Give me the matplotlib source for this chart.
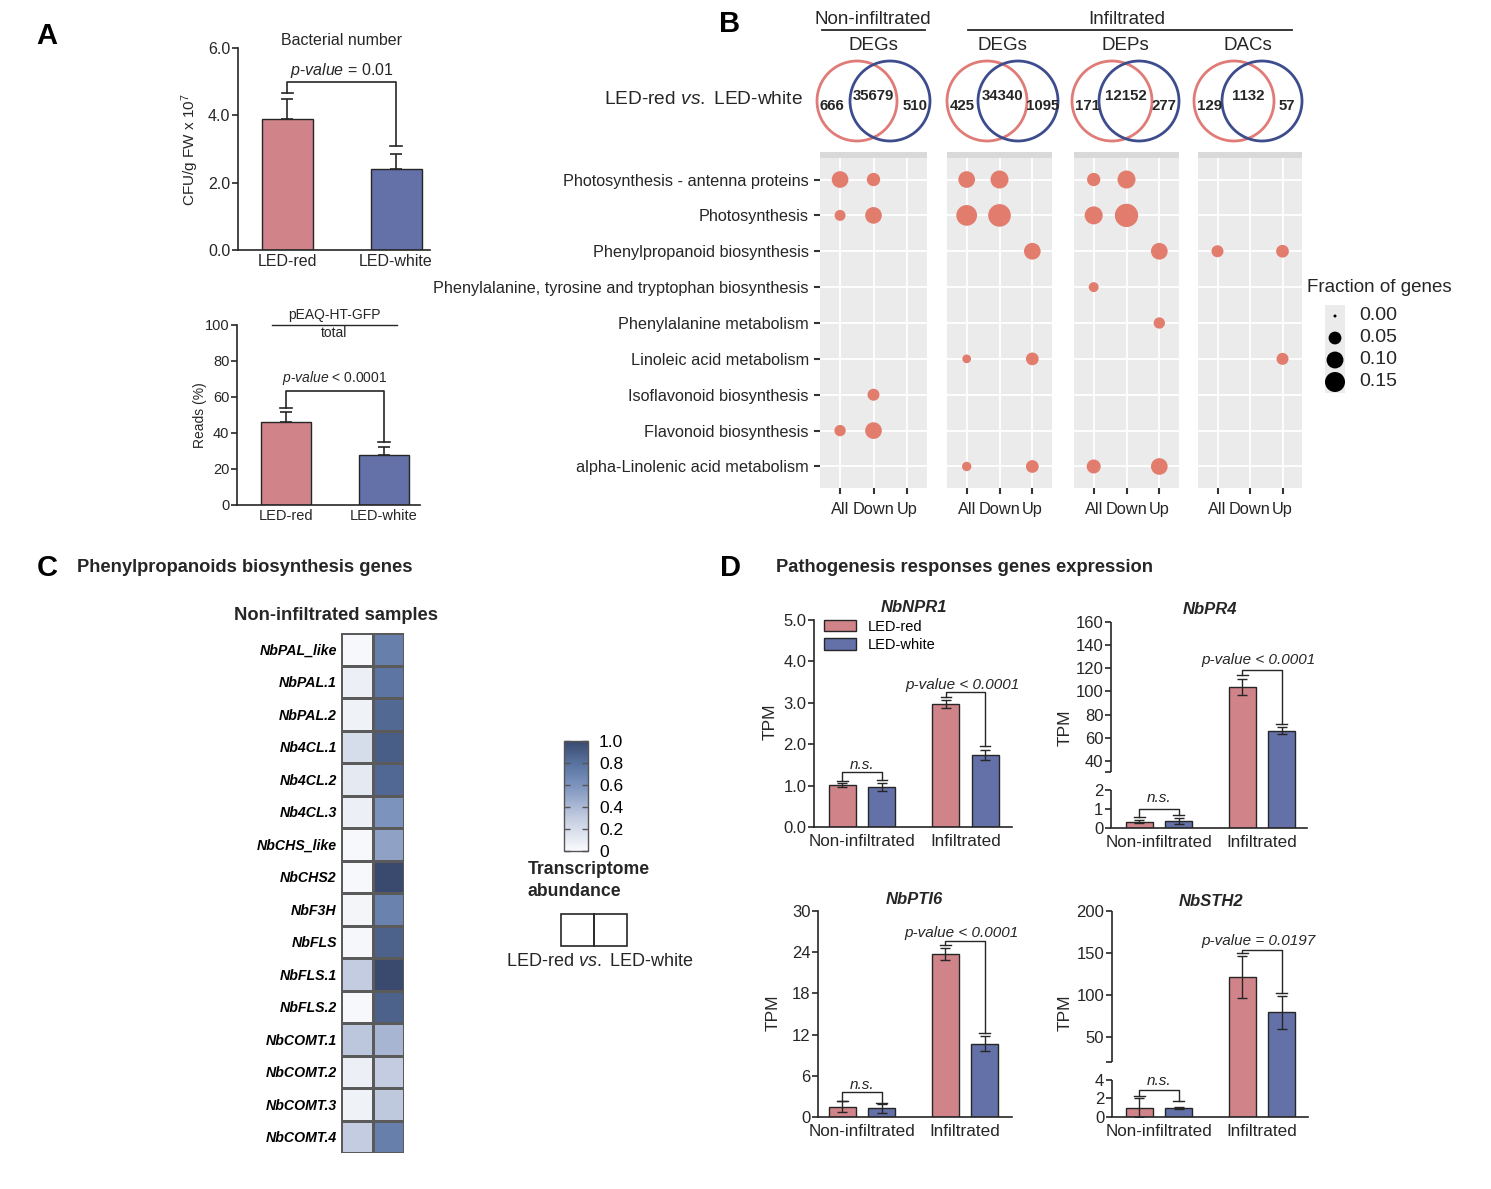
import numpy as np
import matplotlib
matplotlib.use('Agg')
import matplotlib.pyplot as plt
from matplotlib.patches import Circle, Rectangle, Patch
from matplotlib.colors import LinearSegmentedColormap, Normalize
from matplotlib.cm import ScalarMappable

plt.rcParams['font.family'] = ['Liberation Sans', 'DejaVu Sans']
plt.rcParams['mathtext.fontset'] = 'custom'
plt.rcParams['mathtext.rm'] = 'Liberation Sans'
plt.rcParams['mathtext.it'] = 'Liberation Sans:italic'
plt.rcParams['mathtext.bf'] = 'Liberation Sans:bold'

W, H = 1491, 1189
INK = '#262626'
RED = '#D0848A'
BLUE = '#6470A8'
DOT = '#E27D6E'
nan = np.nan

# ---------- A : bacterial number / viral reads ----------
a_groups = ['LED-red', 'LED-white']
cfu_mean = [3.9, 2.4]
cfu_err = [0.6, 0.45]
reads_mean = [46, 28]
reads_err = [5.5, 4.0]

# ---------- B : venn counts + enrichment dots ----------
venn_titles = ['DEGs', 'DEGs', 'DEPs', 'DACs']
venn_red_only = [666, 425, 171, 129]
venn_shared = [35679, 34340, 12152, 1132]
venn_white_only = [510, 1095, 277, 57]

pathways = ['Photosynthesis - antenna proteins', 'Photosynthesis',
            'Phenylpropanoid biosynthesis',
            'Phenylalanine, tyrosine and tryptophan biosynthesis',
            'Phenylalanine metabolism', 'Linoleic acid metabolism',
            'Isoflavonoid biosynthesis', 'Flavonoid biosynthesis',
            'alpha-Linolenic acid metabolism']
dot_cats = ['All', 'Down', 'Up']
# fraction of genes; rows = pathways, columns = All / Down / Up
frac_noninf_degs = [[0.097, 0.055, nan], [0.033, 0.097, nan], [nan, nan, nan],
                    [nan, nan, nan], [nan, nan, nan], [nan, nan, nan],
                    [nan, 0.042, nan], [0.036, 0.097, nan], [nan, nan, nan]]
frac_inf_degs = [[0.097, 0.117, nan], [0.163, 0.200, nan], [nan, nan, 0.097],
                 [nan, nan, nan], [nan, nan, nan], [0.017, nan, 0.049],
                 [nan, nan, nan], [nan, nan, nan], [0.021, nan, 0.049]]
frac_inf_deps = [[0.055, 0.117, nan], [0.117, 0.214, nan], [nan, nan, 0.097],
                 [0.025, nan, nan], [nan, nan, 0.036], [nan, nan, nan],
                 [nan, nan, nan], [nan, nan, nan], [0.063, nan, 0.097]]
frac_inf_dacs = [[nan, nan, nan], [nan, nan, nan], [0.042, nan, 0.049],
                 [nan, nan, nan], [nan, nan, nan], [nan, nan, 0.042],
                 [nan, nan, nan], [nan, nan, nan], [nan, nan, nan]]
legend_fracs = [0.00, 0.05, 0.10, 0.15]

# ---------- C : heatmap ----------
genes = ['NbPAL_like', 'NbPAL.1', 'NbPAL.2', 'Nb4CL.1', 'Nb4CL.2', 'Nb4CL.3',
         'NbCHS_like', 'NbCHS2', 'NbF3H', 'NbFLS', 'NbFLS.1', 'NbFLS.2',
         'NbCOMT.1', 'NbCOMT.2', 'NbCOMT.3', 'NbCOMT.4']
abund_red = [0.02, 0.08, 0.06, 0.20, 0.12, 0.08, 0.02, 0.02,
             0.04, 0.03, 0.30, 0.02, 0.33, 0.08, 0.06, 0.30]
abund_white = [0.72, 0.78, 0.84, 0.90, 0.85, 0.60, 0.52, 1.00,
               0.70, 0.88, 1.00, 0.88, 0.42, 0.30, 0.32, 0.72]

# ---------- D : TPM ----------
d_groups = ['Non-infiltrated', 'Infiltrated']
npr1_red, npr1_red_err = [1.02, 2.97], [0.05, 0.10]
npr1_white, npr1_white_err = [0.97, 1.75], [0.10, 0.12]
pr4_red, pr4_red_err = [0.33, 103.5], [0.08, 7.0]
pr4_white, pr4_white_err = [0.37, 66.0], [0.14, 3.0]
pti6_red, pti6_red_err = [1.5, 23.7], [0.8, 0.9]
pti6_white, pti6_white_err = [1.25, 10.7], [0.6, 1.1]
sth2_red, sth2_red_err = [1.0, 121.0], [1.0, 25.0]
sth2_white, sth2_white_err = [0.97, 79.0], [0.12, 20.0]


fig = plt.figure(figsize=(W / 100, H / 100), dpi=100)


def px_axes(x0, y0, x1, y1, **kw):
    return fig.add_axes([x0 / W, 1 - y1 / H, (x1 - x0) / W, (y1 - y0) / H], **kw)


def style_bar_axes(ax, size):
    for s in ['top', 'right']:
        ax.spines[s].set_visible(False)
    for s in ['left', 'bottom']:
        ax.spines[s].set_linewidth(1.2)
        ax.spines[s].set_color(INK)
    ax.tick_params(axis='y', length=4, width=1.2, color=INK, labelsize=size, pad=1.5, labelcolor=INK)
    ax.tick_params(axis='x', length=0, labelsize=size, pad=3, labelcolor=INK)


def bracket(ax, x1, x2, y1, y2, h, cw, lw=1.2):
    ax.plot([x1, x1, x2, x2], [y1, h, h, y2], color=INK, lw=lw, clip_on=False, zorder=4)
    for x, y in ((x1, y1), (x2, y2)):
        ax.plot([x - cw, x + cw], [y, y], color=INK, lw=lw, clip_on=False, zorder=4)


def dot_size(f):
    d = 3 + 17 * np.sqrt(np.asarray(f, float) / 0.15)
    return (d * 0.72) ** 2


def break_scale(bps, pxs):
    bps = np.asarray(bps, float)
    pxs = np.asarray(pxs, float)
    s0 = (pxs[1] - pxs[0]) / (bps[1] - bps[0])
    s1 = (pxs[-1] - pxs[-2]) / (bps[-1] - bps[-2])
    xb = np.r_[bps[0] - 1e4, bps, bps[-1] + 1e4]
    xp = np.r_[pxs[0] - 1e4 * s0, pxs, pxs[-1] + 1e4 * s1]
    return (lambda v: np.interp(v, xb, xp)), (lambda p: np.interp(p, xp, xb))


# ===== A top =====
axA1 = px_axes(238, 48, 430, 250)
xa = np.arange(2)
axA1.bar(xa, cfu_mean, 0.47, color=[RED, BLUE], edgecolor=INK, lw=1)
axA1.errorbar(xa, cfu_mean, yerr=[[0, 0], cfu_err], fmt='none', ecolor=INK,
              elinewidth=1.2, capsize=4.3, capthick=1.2)
axA1.set_xlim(-0.456, 1.313)
axA1.set_ylim(0, 6)
axA1.set_yticks([0, 2, 4, 6], ['0.0', '2.0', '4.0', '6.0'])
axA1.set_xticks(xa, a_groups)
style_bar_axes(axA1, 11.5)
bracket(axA1, 0, 1, 4.65, 3.1, 5.0, 0.055)
axA1.text(0.5, 5.32, r'$\it{p}$-$\it{value}$ = 0.01', ha='center', va='center', fontsize=11.5, color=INK)
axA1.text(0.5, 6.22, 'Bacterial number', ha='center', va='center', fontsize=11.5, color=INK)

# ===== A bottom =====
axA2 = px_axes(237, 325, 420, 505)
axA2.bar(xa, reads_mean, 0.515, color=[RED, BLUE], edgecolor=INK, lw=1)
axA2.errorbar(xa, reads_mean, yerr=[[0, 0], reads_err], fmt='none', ecolor=INK,
              elinewidth=1.2, capsize=4.3, capthick=1.2)
axA2.set_xlim(-0.505, 1.37)
axA2.set_ylim(0, 100)
axA2.set_yticks(range(0, 101, 20))
axA2.set_xticks(xa, a_groups)
style_bar_axes(axA2, 10.5)
bracket(axA2, 0, 1, 54, 35, 63.3, 0.06)
axA2.text(0.5, 70.6, r'$\it{p}$-$\it{value}$ < 0.0001', ha='center', va='center', fontsize=10, color=INK)
axA2.text(0.49, 105.6, 'pEAQ-HT-GFP', ha='center', va='center', fontsize=10, color=INK)
axA2.plot([-0.144, 1.134], [100, 100], color=INK, lw=1, clip_on=False)
axA2.text(0.49, 95.6, 'total', ha='center', va='center', fontsize=10, color=INK)

# ===== B dot plot =====
facets = [frac_noninf_degs, frac_inf_degs, frac_inf_deps, frac_inf_dacs]
facet_x = [(820, 927), (947, 1052), (1074, 1179), (1198, 1302)]
dot_axes = []
for i, (x0, x1) in enumerate(facet_x):
    ax = px_axes(x0, 158, x1, 488)
    M = np.array(facets[i], float)
    rows, cols = np.where(~np.isnan(M))
    ax.scatter(cols + 1, rows + 1, s=dot_size(M[rows, cols]), color=DOT, linewidths=0, zorder=3)
    ax.set_facecolor('#EBEBEB')
    ax.set_xlim(0.4, 3.6)
    ax.set_ylim(len(pathways) + 0.6, 0.4)
    ax.set_xticks([1, 2, 3], dot_cats)
    ax.set_yticks(np.arange(1, len(pathways) + 1))
    ax.grid(True, color='white', lw=1.3)
    ax.set_axisbelow(True)
    for s in ax.spines.values():
        s.set_visible(False)
    ax.tick_params(axis='x', length=4, width=1.5, color='#333333', labelsize=11.8, pad=6, labelcolor=INK)
    if i == 0:
        ax.set_yticklabels(pathways)
        ax.tick_params(axis='y', length=4, width=1.5, color='#333333', labelsize=11.7, pad=4, labelcolor=INK)
    else:
        ax.tick_params(axis='y', length=0, labelleft=False)
    dot_axes.append(ax)

# ===== C heatmap =====
cmap = LinearSegmentedColormap.from_list(
    'abund', [(0, '#FAFBFD'), (0.3, '#C3CCE0'), (0.6, '#7C93BD'), (0.8, '#58729F'), (1.0, '#3A4A6E')])
axC = px_axes(341, 633, 404, 1153)
heat = np.column_stack([abund_red, abund_white])
axC.pcolormesh(np.arange(3), np.arange(len(genes) + 1), heat, cmap=cmap, vmin=0, vmax=1,
               edgecolors='#5A5A5A', linewidth=0.8)
axC.set_ylim(len(genes), 0)
axC.set_xlim(0, 2)
axC.set_xticks([])
axC.set_yticks(np.arange(len(genes)) + 0.5, genes)
axC.tick_params(axis='y', length=0, pad=3, labelsize=10.2)
for lab in axC.get_yticklabels():
    lab.set_fontweight('bold')
    lab.set_fontstyle('italic')
for s in axC.spines.values():
    s.set_visible(False)

cax = px_axes(564, 741, 588, 851)
cb = fig.colorbar(ScalarMappable(Normalize(0, 1), cmap), cax=cax)
cb.set_ticks([0, 0.2, 0.4, 0.6, 0.8, 1.0], labels=['0', '0.2', '0.4', '0.6', '0.8', '1.0'])
cb.outline.set_edgecolor('#555555')
cb.outline.set_linewidth(1)
cax.tick_params(direction='in', length=4, width=1, left=True, right=True, labelsize=12.5, pad=8, color='#555555')

# ===== D bar panels =====
d_panels = [
    dict(name='NbNPR1', rect=(814, 620, 1012, 827), xlim=(-0.464, 1.449),
         red=npr1_red, red_err=npr1_red_err, white=npr1_white, white_err=npr1_white_err,
         ylim=(0, 5), yticks=[0, 1, 2, 3, 4, 5], ylabels=['0.0', '1.0', '2.0', '3.0', '4.0', '5.0'],
         brk=None, br_ni=(1.10, 1.14, 1.33), br_i=(3.14, 1.96, 3.26), ns_y=1.5, p_y=3.43,
         p='p-value < 0.0001', title_xy=(914, 608), tpm_xy=(770, 722)),
    dict(name='NbPR4', rect=(1111, 622, 1307, 828), xlim=(-0.466, 1.437),
         red=pr4_red, red_err=pr4_red_err, white=pr4_white, white_err=pr4_white_err,
         ylim=(0, 160), yticks=[0, 1, 2, 30, 40, 60, 80, 100, 120, 140, 160],
         ylabels=['0', '1', '2', '', '40', '60', '80', '100', '120', '140', '160'],
         brk=([0, 2, 30, 160], [0, 38.3, 55.7, 206.6]), br_ni=(0.6, 0.7, 1.0), br_i=(114, 72, 118.4),
         ns_y=1.55, p_y=127, p='p-value < 0.0001', title_xy=(1210, 610), tpm_xy=(1065, 728)),
    dict(name='NbPTI6', rect=(818, 911, 1012, 1117), xlim=(-0.427, 1.456),
         red=pti6_red, red_err=pti6_red_err, white=pti6_white, white_err=pti6_white_err,
         ylim=(0, 30), yticks=[0, 6, 12, 18, 24, 30], ylabels=['0', '6', '12', '18', '24', '30'],
         brk=None, br_ni=(2.4, 2.1, 3.63), br_i=(25.0, 12.3, 25.6), ns_y=4.7, p_y=26.8,
         p='p-value < 0.0001', title_xy=(914, 899), tpm_xy=(773, 1013)),
    dict(name='NbSTH2', rect=(1112, 911, 1308, 1117), xlim=(-0.456, 1.447),
         red=sth2_red, red_err=sth2_red_err, white=sth2_white, white_err=sth2_white_err,
         ylim=(0, 200), yticks=[0, 2, 4, 20, 50, 100, 150, 200],
         ylabels=['0', '2', '4', '', '50', '100', '150', '200'],
         brk=([0, 4, 20, 200], [0, 37.3, 55.3, 206.3]), br_ni=(2.3, 1.68, 2.94), br_i=(150, 102, 153.3),
         ns_y=3.9, p_y=164, p='p-value = 0.0197', title_xy=(1211, 901), tpm_xy=(1065, 1013)),
]

xd = np.arange(2)
off, bw = 0.19, 0.26
d_axes = []
for k, P in enumerate(d_panels):
    ax = px_axes(*P['rect'])
    if P['brk'] is not None:
        fwd, inv = break_scale(*P['brk'])
        ax.set_yscale('function', functions=(fwd, inv))
    ax.bar(xd - off, P['red'], bw, color=RED, edgecolor=INK, lw=1, zorder=2)
    ax.bar(xd + off, P['white'], bw, color=BLUE, edgecolor=INK, lw=1, zorder=2)
    ax.errorbar(xd - off, P['red'], yerr=P['red_err'], fmt='none', ecolor=INK,
                elinewidth=1, capsize=3.6, capthick=1, zorder=3)
    ax.errorbar(xd + off, P['white'], yerr=P['white_err'], fmt='none', ecolor=INK,
                elinewidth=1, capsize=3.6, capthick=1, zorder=3)
    ax.set_xlim(*P['xlim'])
    ax.set_ylim(*P['ylim'])
    ax.set_yticks(P['yticks'], P['ylabels'])
    ax.set_xticks(xd, d_groups)
    style_bar_axes(ax, 12)
    ax.tick_params(axis='x', labelsize=12.3, pad=5)
    if P['brk'] is not None:
        ax.spines['left'].set_visible(False)
        b = P['brk'][0]
        for lo, hi in ((b[0], b[1]), (b[2], b[3])):
            ax.plot([0, 0], [lo, hi], transform=ax.get_yaxis_transform(), color=INK,
                    lw=1.2, clip_on=False, solid_capstyle='butt')
    r1, w1, h1 = P['br_ni']
    bracket(ax, -off, off, r1, w1, h1, 0.05, lw=1)
    r2, w2, h2 = P['br_i']
    bracket(ax, 1 - off, 1 + off, r2, w2, h2, 0.05, lw=1)
    ax.text(0, P['ns_y'], 'n.s.', ha='center', va='center', fontsize=11, style='italic', color=INK)
    ax.text(0.97, P['p_y'], P['p'], ha='center', va='center', fontsize=11, style='italic', color=INK)
    if k == 0:
        ax.legend(handles=[Patch(fc=RED, ec=INK, lw=1), Patch(fc=BLUE, ec=INK, lw=1)],
                  labels=['LED-red', 'LED-white'], loc='upper left', bbox_to_anchor=(0.02, 1.03),
                  frameon=False, fontsize=10.5, handlelength=2.2, handleheight=0.8,
                  labelspacing=0.3, borderaxespad=0, handletextpad=0.8)
    d_axes.append(ax)

# ===== overlay for free text, venns, legends =====
ov = fig.add_axes([0, 0, 1, 1])
ov.set_xlim(0, W)
ov.set_ylim(H, 0)
ov.set_axis_off()
ov.patch.set_visible(False)

for lbl, (x, y) in zip('ABCD', [(47, 36), (730, 24), (47, 568), (731, 568)]):
    ov.text(x, y, lbl, ha='center', va='center', fontsize=21, fontweight='bold', color='black')

ov.text(190, 150, r'CFU/g FW x 10$^{7}$', rotation=90, ha='center', va='center', fontsize=11, color=INK)
ov.text(200, 415, 'Reads (%)', rotation=90, ha='center', va='center', fontsize=10, color=INK)

# venn headers
ov.text(873, 20, 'Non-infiltrated', ha='center', va='center', fontsize=13.5, color=INK)
ov.plot([822, 925], [30, 30], color=INK, lw=1.3)
ov.text(1127, 20, 'Infiltrated', ha='center', va='center', fontsize=13.5, color=INK)
ov.plot([968, 1292], [30, 30], color=INK, lw=1.3)
ov.text(803, 99, r'LED-red $\it{vs.}$ LED-white', ha='right', va='center', fontsize=13.8, color=INK)

venn_cx = [(857, 890), (987, 1018), (1112, 1139), (1234, 1262)]
for i, (cr, cw_) in enumerate(venn_cx):
    ov.add_patch(Circle((cr, 101), 40, fill=False, ec='#E07B77', lw=2))
    ov.add_patch(Circle((cw_, 101), 40, fill=False, ec='#3D4C8C', lw=2))
    mid = (cr + cw_) / 2
    ov.text(mid, 45, venn_titles[i], ha='center', va='center', fontsize=13.5, color=INK)
    ov.text(cr - 25, 106, str(venn_red_only[i]), ha='center', va='center', fontsize=10.8, fontweight='bold', color=INK)
    ov.text(mid, 96, str(venn_shared[i]), ha='center', va='center', fontsize=10.8, fontweight='bold', color=INK)
    ov.text(cw_ + 25, 106, str(venn_white_only[i]), ha='center', va='center', fontsize=10.8, fontweight='bold', color=INK)

for x0, x1 in facet_x:
    ov.add_patch(Rectangle((x0, 152), x1 - x0, 6, color='#D9D9D9', lw=0))

# size legend
ov.text(1307, 288, 'Fraction of genes', ha='left', va='center', fontsize=13.5, color=INK)
ov.add_patch(Rectangle((1325, 305), 20, 88, color='#EBEBEB', lw=0))
ly = [316, 338, 360, 382]
ov.scatter([1335] * 4, ly, s=dot_size(legend_fracs), color='black', linewidths=0, zorder=3)
for y, f in zip(ly, legend_fracs):
    ov.text(1359, y, f'{f:.2f}', ha='left', va='center', fontsize=14, color=INK)

# C texts
ov.text(77, 568, 'Phenylpropanoids biosynthesis genes', ha='left', va='center', fontsize=13.2, fontweight='bold', color=INK)
ov.text(336, 615, 'Non-infiltrated samples', ha='center', va='center', fontsize=13.2, fontweight='bold', color=INK)
ov.text(528, 869, 'Transcriptome', ha='left', va='center', fontsize=12.7, fontweight='bold', color=INK)
ov.text(528, 891, 'abundance', ha='left', va='center', fontsize=12.7, fontweight='bold', color=INK)
ov.add_patch(Rectangle((561, 914), 33, 32, fill=False, ec=INK, lw=1.2))
ov.add_patch(Rectangle((594, 914), 33, 32, fill=False, ec=INK, lw=1.2))
ov.text(600, 962, r'LED-red $\it{vs.}$ LED-white', ha='center', va='center', fontsize=13, color=INK)

# D texts
ov.text(776, 567, 'Pathogenesis responses genes expression', ha='left', va='center', fontsize=13.2, fontweight='bold', color=INK)
for P in d_panels:
    ov.text(*P['title_xy'], P['name'], ha='center', va='center', fontsize=12, fontweight='bold', style='italic', color=INK)
    ov.text(*P['tpm_xy'], 'TPM', rotation=90, ha='center', va='center', fontsize=12.5, color=INK)

fig.savefig('out.png', dpi=100, facecolor='white')
